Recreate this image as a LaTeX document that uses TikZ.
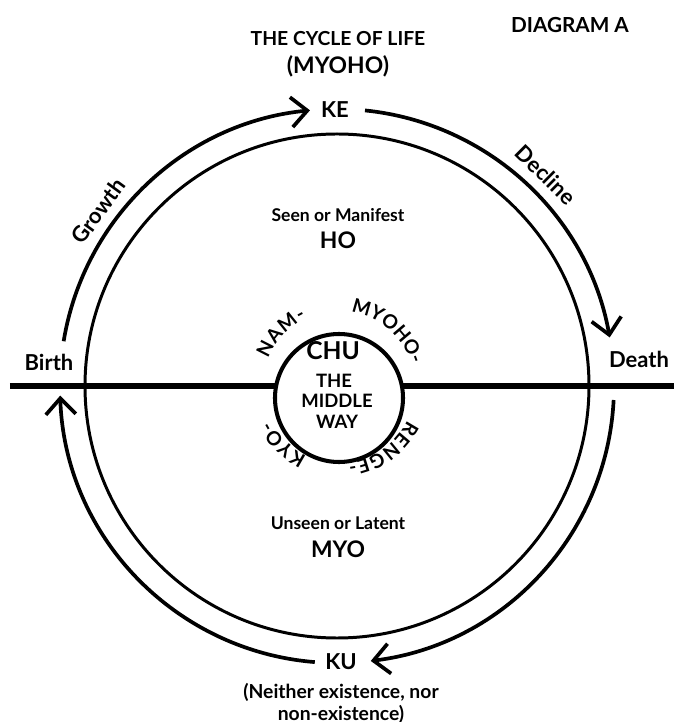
\documentclass[tikz,border=0pt]{standalone}
\usepackage{fontspec}
\setmainfont{Lato}
\usetikzlibrary{
    arrows.meta,
    decorations.text
}

\tikzset{
    lbl/.style={font=\bfseries\fontsize{#1}{#1}\selectfont, inner sep=0pt},
    cyc/.style={line width=2.1pt, -{Straight Barb[length=3.2mm,width=6mm]}},
    ringtext/.style={font=\bfseries\fontsize{11}{11}\selectfont, decorate,
        decoration={text along path, text align=fit to path,
        text={|\bfseries\fontsize{11}{11}\selectfont|#1}}}
}

\begin{document}
\begin{tikzpicture}
\useasboundingbox (-6.74,-6.72) rectangle (6.74,7.72);
\coordinate (o) at (0,0);
\coordinate (ring) at (0.04,-0.02);

% the big circle and the line
\draw[line width=1.7pt] (o) circle (5.04);
\coordinate (lineL) at (-6.54,0);
\coordinate (lineR) at (6.74,0);
\draw[line width=3.4pt] (lineL) -- (lineR);

% the four arcs of the cycle
\draw[cyc] (o) ++(170.7:5.54) arc[start angle=170.7, end angle=95.6, radius=5.54];
\draw[cyc] (o) ++(84.2:5.54) arc[start angle=84.2, end angle=10.1, radius=5.54];
\draw[cyc] (o) ++(-2.9:5.54) arc[start angle=-2.9, end angle=-83, radius=5.54];
\draw[cyc] (o) ++(-94.6:5.54) arc[start angle=-94.6, end angle=-178, radius=5.54];

% middle way
\node[draw, circle, line width=2.3pt, fill=white, minimum size=2.56cm, inner sep=0pt] (mid) at (0.04,-0.24) {};
\node[lbl=14pt] (chu) at (-0.08,0.70) {CHU};
\node[lbl=10.5pt] (the) at (-0.06,0.10) {THE};
\node[lbl=10.5pt] (middle) at (0,-0.30) {MIDDLE};
\node[lbl=10.5pt] (way) at (0,-0.72) {WAY};

% the words round the middle
\path[ringtext={NAM-}, shift={(ring)}] (158.5:1.52) arc[start angle=158.5, end angle=115.5, radius=1.52];
\path[ringtext={MYOHO-}, shift={(ring)}] (81:1.52) arc[start angle=81, end angle=19, radius=1.52];
\path[ringtext={RENGE-}, shift={(ring)}] (-26:1.52) arc[start angle=-26, end angle=-83, radius=1.52];
\path[ringtext={KYO-}, shift={(ring)}] (-115:1.52) arc[start angle=-115, end angle=-153.5, radius=1.52];

% labels
\node[lbl=11.8pt] (diag) at (4.66,7.22) {DIAGRAM A};
\node[lbl=11pt] (title) at (0.02,6.94) {THE CYCLE OF LIFE};
\node[lbl=13pt] (myoho) at (0.02,6.40) {(MYOHO)};
\node[lbl=12.5pt] (ke) at (-0.04,5.52) {KE};
\node[lbl=10pt] (seen) at (0.02,3.42) {Seen or Manifest};
\node[lbl=13pt] (ho) at (0.02,2.92) {HO};
\node[lbl=10pt] (unseen) at (0.02,-2.74) {Unseen or Latent};
\node[lbl=13pt] (myo) at (0.02,-3.26) {MYO};
\node[lbl=12.5pt] (ku) at (0.08,-5.52) {KU};
\node[lbl=11pt] (neither) at (0.08,-6.12) {(Neither existence, nor};
\node[lbl=11pt] (nonex) at (0.08,-6.56) {non-existence)};
\node[lbl=12.5pt] (birth) at (-5.76,0.48) {Birth};
\node[lbl=12.5pt] (death) at (6.04,0.54) {Death};
\node[lbl=12.5pt, rotate=53.8] (growth) at (143.8:5.92) {Growth};
\node[lbl=12.5pt, rotate=-44.7] (decline) at (45.3:5.94) {Decline};
\end{tikzpicture}
\end{document}
